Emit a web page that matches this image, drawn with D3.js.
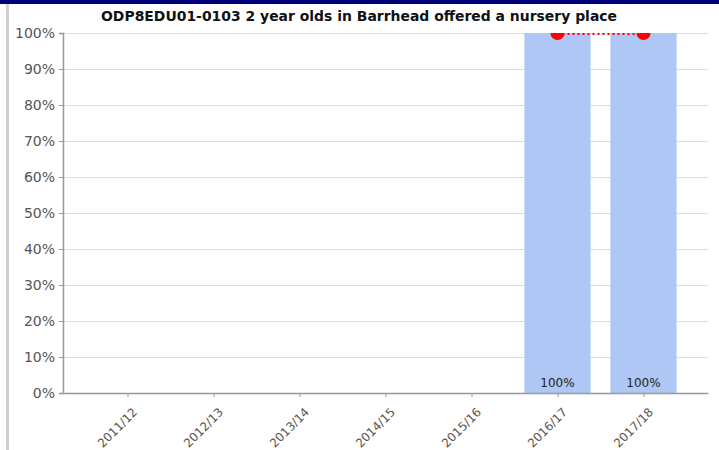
<!DOCTYPE html>
<html>
<head>
<meta charset="utf-8">
<script src="https://cdn.jsdelivr.net/npm/d3@7"></script>
<style>
  body { margin: 0; background: #fff; }
  svg { display: block; font-family: Tahoma, "DejaVu Sans", sans-serif; }
</style>
</head>
<body>
<svg id="chart" width="719" height="450"></svg>
<script>
// Chart data
var title = "ODP8EDU01-0103 2 year olds in Barrhead offered a nursery place";
var years = ["2011/12", "2012/13", "2013/14", "2014/15", "2015/16", "2016/17", "2017/18"];
var barValues = [null, null, null, null, null, 100, 100];
var lineValues = [null, null, null, null, null, 100, 100];
var yTicks = [0, 10, 20, 30, 40, 50, 60, 70, 80, 90, 100];

var svg = d3.select("#chart");

// Frame: navy top strip and grey left rule
svg.append("rect").attr("x", 0).attr("y", 0).attr("width", 719).attr("height", 4).attr("fill", "#00007a");
svg.append("rect").attr("x", 6).attr("y", 4).attr("width", 3).attr("height", 446).attr("fill", "#d0d0d0");

var margin = {top: 33, left: 63, bottom: 57, right: 11};
var width = 719 - margin.left - margin.right;
var height = 450 - margin.top - margin.bottom;

var xScale = d3.scalePoint().domain(years).range([0, width]).padding(0.75);
var step = xScale.step();
var yScale = d3.scaleLinear().domain([0, 100]).range([height, 0]);

var g = svg.append("g").attr("transform", "translate(" + [margin.left, margin.top] + ")");

svg.append("defs").append("clipPath").attr("id", "plotClip")
    .append("rect").attr("width", width).attr("height", height);

// Title
svg.append("text")
    .attr("x", 359).attr("y", 21)
    .attr("text-anchor", "middle")
    .attr("font-weight", "bold")
    .attr("font-size", 14)
    .attr("textLength", 516)
    .attr("lengthAdjust", "spacingAndGlyphs")
    .attr("fill", "#111")
    .text(title);

// Gridlines
g.selectAll(".grid").data(yTicks).enter().append("line")
    .attr("x1", 0).attr("x2", width)
    .attr("y1", function(d) { return yScale(d) + 0.5; })
    .attr("y2", function(d) { return yScale(d) + 0.5; })
    .attr("stroke", "#dcdcdc");

// Bars
var barW = step * 0.77;
var barData = years.map(function(y, i) { return {year: y, value: barValues[i]}; })
    .filter(function(d) { return d.value != null; });

g.selectAll(".bar").data(barData).enter().append("rect")
    .attr("x", function(d) { return xScale(d.year) - barW / 2; })
    .attr("y", function(d) { return yScale(d.value); })
    .attr("width", barW)
    .attr("height", function(d) { return height - yScale(d.value); })
    .attr("fill", "#aec7f4");

g.selectAll(".barlabel").data(barData).enter().append("text")
    .attr("x", function(d) { return xScale(d.year); })
    .attr("y", height - 6)
    .attr("text-anchor", "middle")
    .attr("font-size", 12)
    .attr("fill", "#222")
    .text(function(d) { return d.value + "%"; });

// Line + points
var lineData = years.map(function(y, i) { return {year: y, value: lineValues[i]}; })
    .filter(function(d) { return d.value != null; });

var lineG = g.append("g").attr("clip-path", "url(#plotClip)");
lineG.append("path")
    .datum(lineData)
    .attr("fill", "none")
    .attr("stroke", "#ff0000")
    .attr("stroke-width", 2)
    .attr("stroke-dasharray", "2,3")
    .attr("d", d3.line().x(function(d) { return xScale(d.year); }).y(function(d) { return yScale(d.value) + 1; }));

lineG.selectAll(".dot").data(lineData).enter().append("circle")
    .attr("cx", function(d) { return xScale(d.year); })
    .attr("cy", function(d) { return yScale(d.value); })
    .attr("r", 7)
    .attr("fill", "#ff0000");

// Axes
var yAxis = g.append("g")
    .call(d3.axisLeft(yScale).tickValues(yTicks).tickSize(4).tickFormat(function(d) { return d + "%"; }));
yAxis.select(".domain").attr("stroke", "#999").attr("stroke-width", 1.5);
yAxis.selectAll(".tick line").attr("stroke", "#999");
yAxis.selectAll(".tick text").attr("font-size", 14).attr("fill", "#555")
    .attr("font-family", "Tahoma, 'DejaVu Sans', sans-serif").attr("x", -8);

var xAxis = g.append("g")
    .attr("transform", "translate(0," + height + ")")
    .call(d3.axisBottom(xScale).tickSize(4).tickSizeOuter(0));
xAxis.select(".domain").attr("stroke", "#999").attr("stroke-width", 1.5);
xAxis.selectAll(".tick line").attr("stroke", "#999");
xAxis.selectAll(".tick text")
    .attr("font-size", 12).attr("fill", "#555")
    .attr("font-family", "Tahoma, 'DejaVu Sans', sans-serif")
    .attr("text-anchor", "end")
    .attr("dy", 0)
    .attr("transform", "translate(5,15) rotate(-45)");
</script>
</body>
</html>
